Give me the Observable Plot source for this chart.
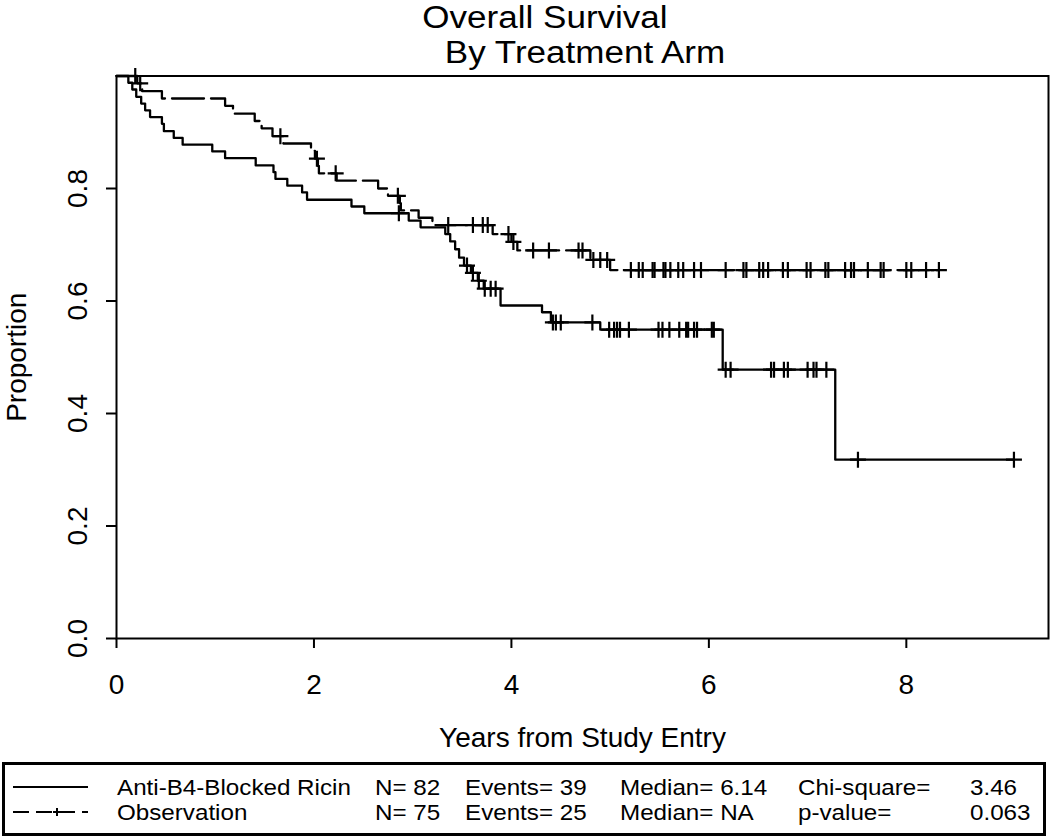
<!DOCTYPE html>
<html><head><meta charset="utf-8">
<script src="https://cdn.jsdelivr.net/npm/d3@7"></script>
<script src="https://cdn.jsdelivr.net/npm/@observablehq/plot@0.6"></script>
<style>
html,body{margin:0;padding:0;background:#fff;}
#wrap{position:relative;width:1050px;height:840px;overflow:hidden;font-family:"Liberation Sans",Arial,sans-serif;color:#000;background:#fff;}
.t{position:absolute;white-space:nowrap;transform:translateX(-50%) scaleX(1.13);font-size:31px;line-height:1;}
#chart{position:absolute;left:0;top:62px;}
#legend{position:absolute;left:0;top:760px;}
</style></head>
<body><div id="wrap">
<div class="t" id="t1" style="left:545px;top:2px;"></div>
<div class="t" id="t2" style="left:585px;top:37px;"></div>
<div id="chart"></div>
<div id="legend"></div>
</div>
<script>
// ---- titles ----
const titleLines = ["Overall Survival", "By Treatment Arm"];
const xLabel = "Years from Study Entry";
const yLabel = "Proportion";
const xTicks = [0, 2, 4, 6, 8];
const yTicks = [0, 0.2, 0.4, 0.6, 0.8];

// ---- Anti-B4-Blocked Ricin (solid): step times and survival after each step ----
const trtTime = [0, 0.12, 0.16, 0.20, 0.25, 0.29, 0.34, 0.46, 0.48, 0.58, 0.67, 0.97, 1.10, 1.41, 1.59, 1.61, 1.73, 1.88, 1.93, 2.38, 2.51, 2.96, 3.08, 3.33, 3.38, 3.43, 3.47, 3.52, 3.59, 3.66, 3.72, 3.89, 4.31, 4.40, 4.90, 6.14, 7.28];
const trtSurv = [1, 0.988, 0.976, 0.963, 0.951, 0.939, 0.927, 0.915, 0.902, 0.890, 0.878, 0.866, 0.854, 0.841, 0.829, 0.817, 0.805, 0.793, 0.780, 0.768, 0.756, 0.743, 0.731, 0.719, 0.706, 0.692, 0.677, 0.663, 0.650, 0.636, 0.622, 0.592, 0.580, 0.562, 0.549, 0.478, 0.318];
const trtCensor = [2.86, 3.55, 3.61, 3.67, 3.73, 3.79, 3.84, 4.42, 4.45, 4.50, 4.82, 4.99, 5.04, 5.07, 5.10, 5.19, 5.49, 5.53, 5.60, 5.70, 5.77, 5.79, 5.85, 5.88, 6.03, 6.05, 6.17, 6.22, 6.63, 6.66, 6.76, 6.80, 7.00, 7.06, 7.09, 7.19, 7.51, 9.09];

// ---- Observation (dashed) ----
const obsTime = [0, 0.21, 0.26, 0.46, 1.10, 1.18, 1.40, 1.47, 1.58, 1.69, 1.97, 2.01, 2.04, 2.05, 2.23, 2.65, 2.75, 2.87, 2.88, 3.06, 3.20, 3.81, 4.00, 4.06, 4.80, 5.00];
const obsSurv = [1, 0.987, 0.973, 0.960, 0.947, 0.933, 0.920, 0.907, 0.893, 0.880, 0.867, 0.853, 0.840, 0.827, 0.814, 0.800, 0.787, 0.774, 0.761, 0.748, 0.735, 0.719, 0.705, 0.690, 0.673, 0.655];
const obsCensor = [0.19, 0.24, 1.66, 2.03, 2.22, 2.85, 3.36, 3.61, 3.71, 3.76, 3.97, 4.02, 4.22, 4.38, 4.68, 4.72, 4.83, 4.90, 4.97, 5.21, 5.29, 5.33, 5.43, 5.45, 5.54, 5.56, 5.61, 5.69, 5.74, 5.85, 5.92, 6.17, 6.35, 6.38, 6.51, 6.55, 6.60, 6.75, 6.80, 6.99, 7.03, 7.18, 7.21, 7.38, 7.44, 7.47, 7.61, 7.74, 7.77, 8.00, 8.05, 8.20, 8.33];

// ---- legend table ----
const armNames = ["Anti-B4-Blocked Ricin", "Observation"];
const armN = [82, 75];
const armEvents = [39, 25];
const armMedian = ["6.14", "NA"];
const statLabels = ["Chi-square=", "p-value="];
const statValues = ["3.46", "0.063"];

// ---- build ----
document.getElementById("t1").textContent = titleLines[0];
document.getElementById("t2").textContent = titleLines[1];

function survAt(times, surv, t) { return surv[d3.bisectRight(times, t) - 1]; }
function curve(times, surv, censor) {
  const end = Math.max(times[times.length - 1], d3.max(censor));
  const pts = times.map((t, i) => ({t, s: surv[i]}));
  pts.push({t: end, s: survAt(times, surv, end)});
  return pts;
}
function marks(times, surv, censor) { return censor.map(t => ({t, s: survAt(times, surv, t)})); }

const plus = {draw(ctx) { const r = 8; ctx.moveTo(-r, 0); ctx.lineTo(r, 0); ctx.moveTo(0, -r); ctx.lineTo(0, r); }};

const chart = Plot.plot({
  width: 1050, height: 700,
  marginLeft: 116, marginRight: 2, marginTop: 13.5, marginBottom: 124,
  style: {fontFamily: "'Liberation Sans', Arial, sans-serif", fontSize: "28px", color: "#000", background: "transparent"},
  x: {domain: [0, 9.44]},
  y: {domain: [0, 1]},
  marks: [
    Plot.axisX({ticks: xTicks, tickSize: 10, tickPadding: 26, strokeWidth: 2, tickFormat: d => String(d),
      label: xLabel, labelAnchor: "center", labelArrow: "none", labelOffset: 108, fontSize: 28}),
    Plot.axisY({ticks: yTicks, tickSize: 10, tickPadding: 20, strokeWidth: 2, tickRotate: -90, tickFormat: d3.format(".1f"),
      label: yLabel, labelAnchor: "center", labelArrow: "none", labelOffset: 110, fontSize: 28}),
    Plot.line(curve(trtTime, trtSurv, trtCensor), {x: "t", y: "s", curve: "step-after", stroke: "#000", strokeWidth: 2.3}),
    Plot.line(curve(obsTime, obsSurv, obsCensor), {x: "t", y: "s", curve: "step-after", stroke: "#000", strokeWidth: 2.3, strokeDasharray: "32,7"}),
    Plot.dot(marks(trtTime, trtSurv, trtCensor), {x: "t", y: "s", symbol: plus, r: 8, stroke: "#000", fill: "none", strokeWidth: 2.2}),
    Plot.dot(marks(obsTime, obsSurv, obsCensor), {x: "t", y: "s", symbol: plus, r: 8, stroke: "#000", fill: "none", strokeWidth: 2.2}),
    Plot.frame({stroke: "#000", strokeWidth: 2})
  ]
});
document.getElementById("chart").appendChild(chart);

// ---- legend ----
const lg = d3.select("#legend").append("svg").attr("width", 1050).attr("height", 80)
  .style("font-family", "'Liberation Sans', Arial, sans-serif");
lg.append("rect").attr("x", 3.5).attr("y", 3.5).attr("width", 1041).attr("height", 71)
  .attr("fill", "none").attr("stroke", "#000").attr("stroke-width", 3);
const rowY = [27, 52];
lg.append("line").attr("x1", 13).attr("x2", 88).attr("y1", rowY[0]).attr("y2", rowY[0]).attr("stroke", "#000").attr("stroke-width", 2);
lg.append("line").attr("x1", 13).attr("x2", 88).attr("y1", rowY[1]).attr("y2", rowY[1]).attr("stroke", "#000").attr("stroke-width", 2).attr("stroke-dasharray", "16,7");
lg.append("path").attr("d", `M53,${rowY[1]}h8M57,${rowY[1]-4}v8`).attr("stroke", "#000").attr("stroke-width", 2);
const cols = [117, 375, 465, 620, 798, 970];
const rows = armNames.map((nm, i) => [nm, `N= ${armN[i]}`, `Events= ${armEvents[i]}`, `Median= ${armMedian[i]}`, statLabels[i], statValues[i]]);
rows.forEach((r, i) => r.forEach((txt, j) => {
  lg.append("text").attr("transform", `translate(${cols[j]},${rowY[i] + 8}) scale(1.1,1)`)
    .attr("font-size", 22).text(txt);
}));
</script>
</body></html>
